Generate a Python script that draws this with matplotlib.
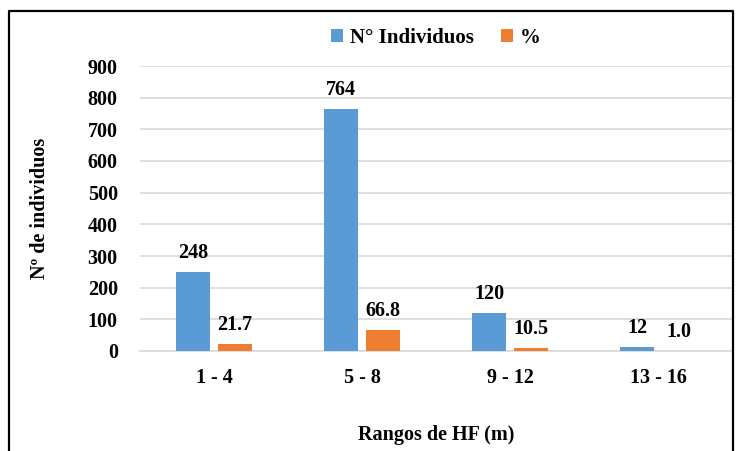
import matplotlib
matplotlib.use("Agg")
import matplotlib.pyplot as plt
import numpy as np
from matplotlib.lines import Line2D

categories = ["1 - 4", "5 - 8", "9 - 12", "13 - 16"]
individuos = [248, 764, 120, 12]
porcentaje = [21.7, 66.8, 10.5, 1.0]
yticks = [0, 100, 200, 300, 400, 500, 600, 700, 800, 900]

BLUE = "#5B9BD5"
ORANGE = "#ED7D31"
GRID = "#D9D9D9"

plt.rcParams["font.family"] = ["Liberation Serif", "DejaVu Serif"]
plt.rcParams["font.weight"] = "bold"

fig = plt.figure(figsize=(7.37, 4.51), dpi=100)
ax = fig.add_axes([140 / 737, 1 - 351 / 451, 592 / 737, 285 / 451])

x = np.arange(len(categories))
w = 0.23
off = 0.142
b1 = ax.bar(x - off, individuos, w, color=BLUE, label="N° Individuos", zorder=3)
b2 = ax.bar(x + off, porcentaje, w, color=ORANGE, label="%", zorder=3)

for rect, v in zip(b1, individuos):
    ax.annotate(f"{v}", (rect.get_x() + rect.get_width() / 2, v),
                xytext=(0, 6.5), textcoords="offset points", ha="center", va="bottom",
                fontsize=14.5, fontweight="bold")
for rect, v in zip(b2, porcentaje):
    ax.annotate(f"{v:.1f}", (rect.get_x() + rect.get_width() / 2, v),
                xytext=(0, 6.5), textcoords="offset points", ha="center", va="bottom",
                fontsize=14.5, fontweight="bold")

ax.set_xlim(-0.5, len(categories) - 0.5)
ax.set_ylim(0, 900)
ax.set_yticks(yticks)
ax.set_xticks(x)
ax.set_xticklabels(categories)
ax.tick_params(axis="both", length=0, labelsize=14.5)
ax.tick_params(axis="x", pad=12)
ax.tick_params(axis="y", pad=16)
for lab in ax.get_xticklabels() + ax.get_yticklabels():
    lab.set_fontweight("bold")
ax.yaxis.grid(True, color=GRID, linewidth=1.2, zorder=0)
for s in ["top", "right", "left"]:
    ax.spines[s].set_visible(False)
ax.spines["bottom"].set_color(GRID)
ax.spines["bottom"].set_linewidth(1.2)

ax.set_ylabel("Nº de individuos", fontsize=14.5, fontweight="bold", labelpad=27)
ax.set_xlabel("Rangos de HF (m)", fontsize=14.5, fontweight="bold", labelpad=27)

ax.legend(loc="lower center", bbox_to_anchor=(0.5, 1.035), ncol=2, frameon=False,
          prop={"size": 15, "weight": "bold"}, handlelength=0.55, handleheight=0.55,
          columnspacing=1.3, handletextpad=0.35, borderaxespad=0)

# outer frame (bottom edge cut off in the source image)
fw, fh = 737, 451
xs = [8.5 / fw, 8.5 / fw, 733 / fw, 733 / fw]
ys = [0, 1 - 10.5 / fh, 1 - 10.5 / fh, 0]
fig.add_artist(Line2D(xs, ys, transform=fig.transFigure, color="black", linewidth=1.6))

fig.savefig("out.png", dpi=100)
